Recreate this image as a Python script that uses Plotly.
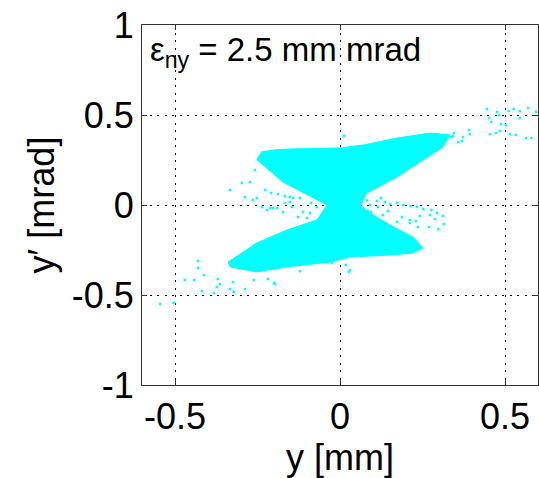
import plotly.graph_objects as go

# Core of the beam distribution in vertical phase space (outline of the dense region)
core_y = [-0.252, -0.237, -0.197, -0.152, 0.000, 0.070, 0.173, 0.273, 0.333,
          0.312, 0.252, 0.173, 0.082, 0.061, 0.091, 0.152, 0.221, 0.252,
          0.221, 0.152, 0.030, -0.030, -0.161, -0.252, -0.333, -0.339,
          -0.252, -0.161, -0.070, -0.039, -0.085, -0.173, -0.252]
core_yp = [0.253, 0.296, 0.306, 0.311, 0.317, 0.333, 0.372, 0.400, 0.389,
           0.322, 0.250, 0.156, 0.067, 0.000, -0.044, -0.111, -0.178, -0.239,
           -0.267, -0.278, -0.289, -0.317, -0.344, -0.372, -0.344, -0.317,
           -0.211, -0.139, -0.083, 0.000, 0.044, 0.128, 0.253]

# Sparse halo particles outside the dense core (y [mm], y' [mrad])
halo_y = [0.342, 0.336, 0.345, 0.358, 0.373, 0.391, 0.394, 0.445, 0.452, 0.458,
          0.476, 0.482, 0.488, 0.511, 0.473, 0.485, 0.503, 0.527, 0.545, 0.545,
          0.570, 0.594, 0.606, 0.580, 0.564, 0.533, 0.515, 0.455, 0.370, 0.012,
          -0.006, -0.258, -0.273, -0.297, -0.333, -0.288, -0.264, -0.252, -0.227,
          -0.209, -0.188, -0.167, -0.152, -0.145, -0.112, -0.091, -0.070, -0.088,
          -0.121, -0.142, -0.221, -0.203, -0.173, -0.100, -0.127, -0.152, -0.236,
          -0.212, -0.167, -0.191, -0.430, -0.430, -0.412, -0.503, -0.470, -0.442,
          -0.418, -0.382, -0.373, -0.370, -0.333, -0.324, -0.364, -0.321, -0.288,
          -0.261, -0.218, -0.197, -0.121, -0.200, -0.545, -0.503, 0.018, 0.027,
          -0.024, 0.030, 0.051, 0.065, 0.082, 0.091, 0.115, 0.112, 0.136, 0.152,
          0.173, 0.192, 0.214, 0.233, 0.252, 0.277, 0.294, 0.312, 0.288, 0.273,
          0.242, 0.212, 0.188, 0.130, 0.145, 0.094, 0.061, 0.045, 0.173, 0.212,
          0.230, 0.270, 0.298, 0.315, 0.124, 0.085, 0.236]
halo_yp = [0.383, 0.378, 0.400, 0.350, 0.378, 0.417, 0.394, 0.533, 0.483, 0.461,
           0.517, 0.500, 0.450, 0.522, 0.400, 0.411, 0.444, 0.533, 0.522, 0.483,
           0.539, 0.517, 0.533, 0.372, 0.372, 0.389, 0.394, 0.394, 0.356, 0.383,
           0.311, 0.194, 0.128, 0.122, 0.083, 0.044, 0.028, 0.039, 0.083, 0.067,
           0.061, 0.050, 0.017, -0.011, -0.039, -0.044, -0.011, 0.011, 0.039,
           0.039, -0.028, -0.017, -0.039, -0.072, -0.067, 0.044, -0.011, -0.017,
           0.011, -0.017, -0.350, -0.311, -0.389, -0.544, -0.417, -0.417, -0.478,
           -0.489, -0.456, -0.411, -0.467, -0.428, -0.439, -0.483, -0.467, -0.417,
           -0.411, -0.439, -0.367, -0.433, -0.550, -0.544, -0.333, -0.372, -0.322,
           -0.361, 0.044, 0.011, 0.025, 0.000, -0.011, 0.022, 0.017, 0.006,
           0.011, 0.000, -0.006, -0.011, -0.022, -0.028, -0.044, -0.061, -0.078,
           -0.056, -0.061, -0.083, -0.067, -0.056, -0.033, -0.039, -0.006, 0.006,
           -0.094, -0.100, -0.089, -0.122, -0.133, -0.106, 0.039, -0.033, -0.122]

CYAN = "#00FFFF"
FONT = "Arial, Liberation Sans, Helvetica, sans-serif"

fig = go.Figure()
fig.add_trace(go.Scatter(
    x=core_y, y=core_yp, mode="lines", fill="toself",
    fillcolor=CYAN, line=dict(color=CYAN, width=1), hoverinfo="skip",
))
fig.add_trace(go.Scatter(
    x=halo_y, y=halo_yp, mode="markers",
    marker=dict(color=CYAN, size=2.5, symbol="square", line=dict(width=0)),
))

axis_common = dict(
    showline=True, linecolor="#333333", linewidth=1, mirror="ticks",
    ticks="inside", ticklen=5, tickcolor="#333333",
    showgrid=True, gridcolor="#000000", gridwidth=1, griddash="2px,5.5px",
    zeroline=False, tickfont=dict(family=FONT, size=36, color="#000000"),
    title_font=dict(family=FONT, size=36, color="#000000"),
)

x_ticks = [-0.5, 0, 0.5]
x_ticktext = ["-0.5", "0", "0.5"]
y_ticks = [-1, -0.5, 0, 0.5, 1]
y_ticktext = ["-1", "-0.5", "0", "0.5", "1"]

fig.update_xaxes(range=[-0.6, 0.6], tickvals=x_ticks, ticktext=x_ticktext,
                 title_text="y [mm]", title_standoff=4, **axis_common)
fig.update_yaxes(range=[-1, 1], tickvals=y_ticks, ticktext=y_ticktext,
                 title_text="y\u2032 [mrad]", title_standoff=6, **axis_common)

fig.add_annotation(
    x=0, y=1, xref="paper", yref="paper", xanchor="left", yanchor="top",
    xshift=6, yshift=-4, showarrow=False,
    text="\u03b5<sub>ny</sub> = 2.5 mm mrad",
    font=dict(family=FONT, size=33, color="#000000"),
)

fig.update_layout(
    width=539, height=478, showlegend=False,
    margin=dict(l=142, r=1, t=25, b=93),
    paper_bgcolor="white", plot_bgcolor="white",
)

fig.write_html("out.html")
